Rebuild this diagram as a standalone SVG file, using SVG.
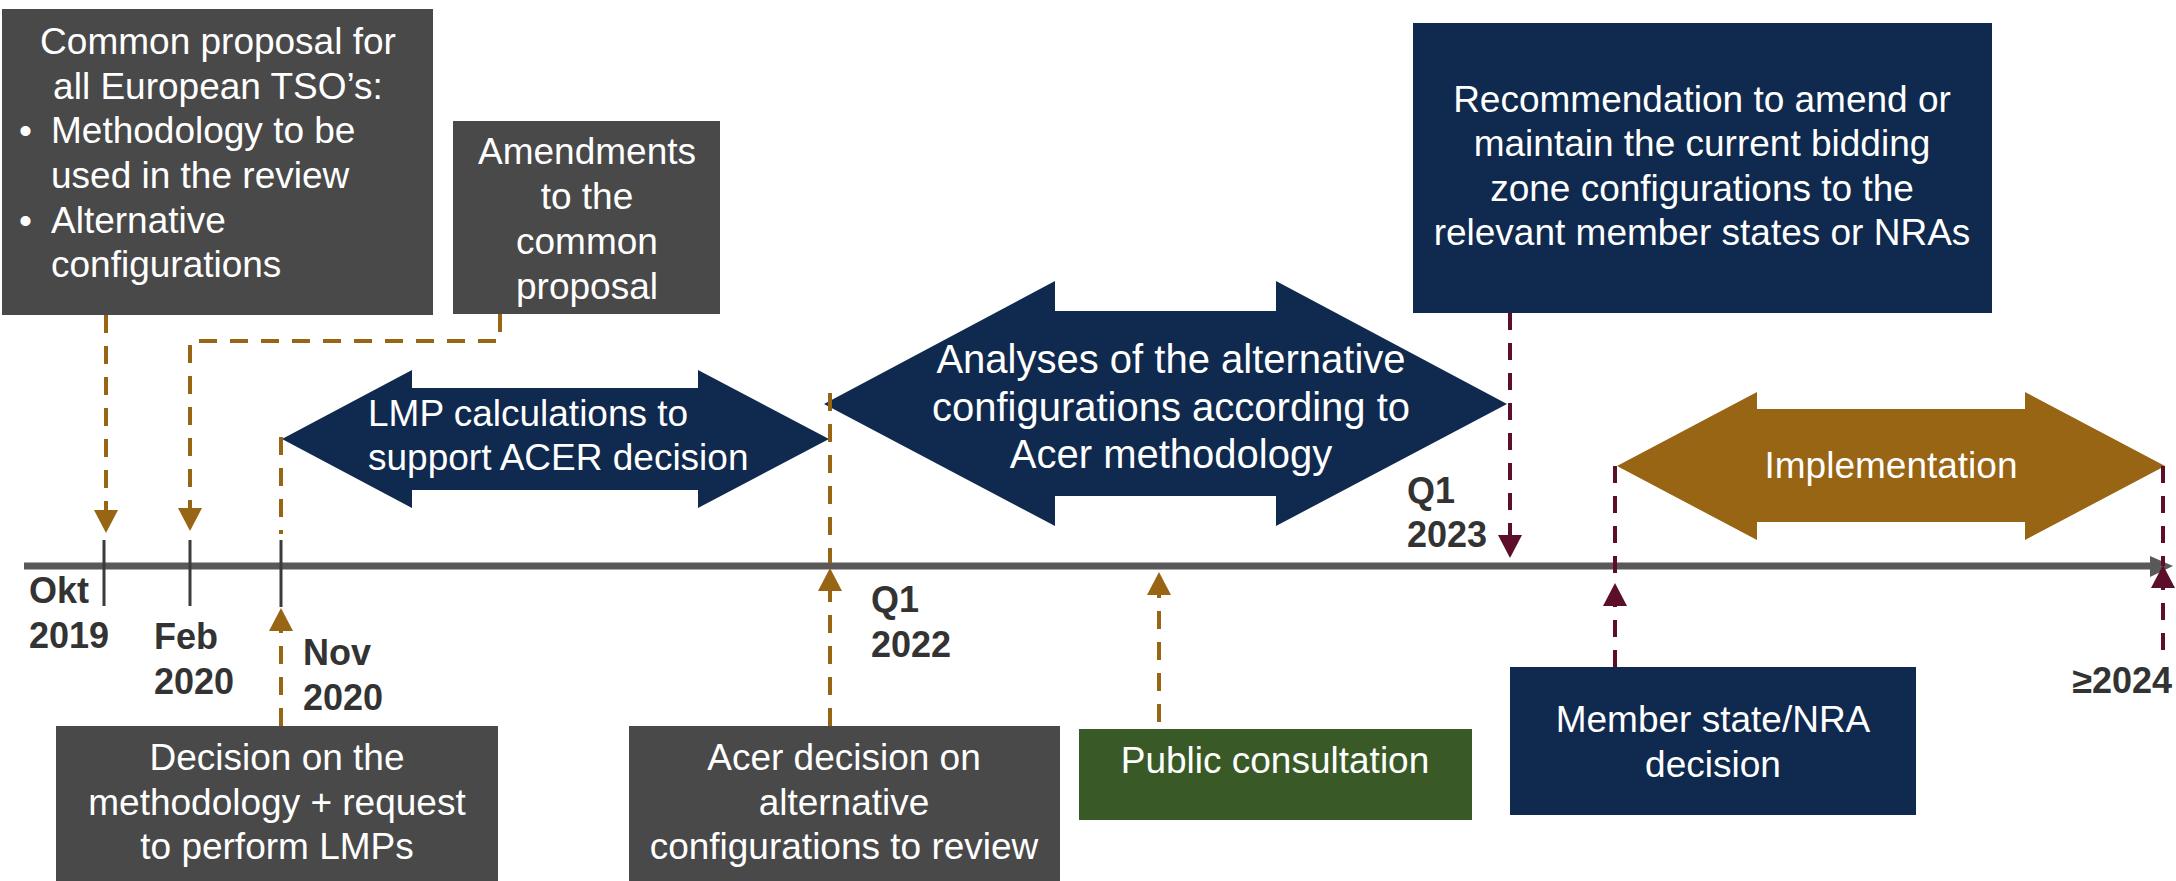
<svg xmlns="http://www.w3.org/2000/svg" width="2176" height="881" viewBox="0 0 2176 881">
<defs>
<style>
.gray{fill:#494949}
.navy{fill:#0F2A4E}
.gold{fill:#976514}
.green{fill:#395A27}
.t{font-family:"Liberation Sans",Arial,sans-serif;fill:#FFFFFF;font-size:37px}
.c{text-anchor:middle}
.d{font-family:"Liberation Sans",Arial,sans-serif;fill:#333333;font-size:36px;font-weight:bold}
.db{fill:none;stroke:#976514;stroke-width:4;stroke-dasharray:18 13}
.dm{fill:none;stroke:#5C0E2A;stroke-width:4;stroke-dasharray:17 13}
.tick{stroke:#3b3b3b;stroke-width:3}
</style>
<marker id="ab" markerUnits="userSpaceOnUse" markerWidth="24" markerHeight="24" viewBox="0 0 24 24" refX="0" refY="12" orient="auto"><path d="M0,0 L23,12 L0,24 z" fill="#976514"/></marker>
<marker id="am" markerUnits="userSpaceOnUse" markerWidth="24" markerHeight="24" viewBox="0 0 24 24" refX="0" refY="12" orient="auto"><path d="M0,0 L23,12 L0,24 z" fill="#5C0E2A"/></marker>
</defs>
<rect width="2176" height="881" fill="#FFFFFF"/>

<g id="timeline">
<line x1="24" y1="566" x2="2152" y2="566" stroke="#595959" stroke-width="7"/>
<polygon points="2150,556 2173,566 2150,577" fill="#595959"/>
<line class="tick" x1="104" y1="540" x2="104" y2="606"/>
<line class="tick" x1="190" y1="540" x2="190" y2="606"/>
<line class="tick" x1="281" y1="540" x2="281" y2="607"/>
</g>

<g id="node-common-proposal">
<rect class="gray" x="2" y="9" width="431" height="306"/>
<text class="t c" x="218" y="54">Common proposal for</text>
<text class="t c" x="218" y="99">all European TSO’s:</text>
<text class="t" x="19" y="143">•</text>
<text class="t" x="51" y="143">Methodology to be</text>
<text class="t" x="51" y="188">used in the review</text>
<text class="t" x="19" y="233">•</text>
<text class="t" x="51" y="233">Alternative</text>
<text class="t" x="51" y="277">configurations</text>
</g>

<g id="node-amendments">
<rect class="gray" x="453" y="121" width="267" height="193"/>
<text class="t c" x="587" y="164">Amendments</text>
<text class="t c" x="587" y="209">to the</text>
<text class="t c" x="587" y="254">common</text>
<text class="t c" x="587" y="299">proposal</text>
</g>

<g id="node-recommendation">
<rect class="navy" x="1413" y="23" width="579" height="290"/>
<text class="t c" x="1702" y="112">Recommendation to amend or</text>
<text class="t c" x="1702" y="156">maintain the current bidding</text>
<text class="t c" x="1702" y="201">zone configurations to the</text>
<text class="t c" x="1702" y="245">relevant member states or NRAs</text>
</g>

<g id="node-lmp">
<polygon class="navy" points="282,439 412,370 412,388 698,388 698,370 829,439 698,508 698,490 412,490 412,508"/>
<text class="t" x="368" y="426">LMP calculations to</text>
<text class="t" x="368" y="470">support ACER decision</text>
</g>

<g id="node-analyses">
<polygon class="navy" points="824,404 1055,281 1055,311 1276,311 1276,281 1507,404 1276,526 1276,496 1055,496 1055,526"/>
<text class="t c" x="1171" y="373" style="font-size:40px">Analyses of the alternative</text>
<text class="t c" x="1171" y="421" style="font-size:40px">configurations according to</text>
<text class="t c" x="1171" y="468" style="font-size:40px">Acer methodology</text>
</g>

<g id="node-implementation">
<polygon class="gold" points="1617,466 1757,392 1757,409 2025,409 2025,392 2165,466 2025,540 2025,522 1757,522 1757,540"/>
<text class="t c" x="1891" y="478">Implementation</text>
</g>

<g id="node-decision-methodology">
<rect class="gray" x="56" y="726" width="442" height="160"/>
<text class="t c" x="277" y="770">Decision on the</text>
<text class="t c" x="277" y="815">methodology + request</text>
<text class="t c" x="277" y="859">to perform LMPs</text>
</g>

<g id="node-acer-decision">
<rect class="gray" x="629" y="726" width="431" height="160"/>
<text class="t c" x="844" y="770">Acer decision on</text>
<text class="t c" x="844" y="815">alternative</text>
<text class="t c" x="844" y="859">configurations to review</text>
</g>

<g id="node-public-consultation">
<rect class="green" x="1079" y="729" width="393" height="91"/>
<text class="t c" x="1275" y="773">Public consultation</text>
</g>

<g id="node-member-state">
<rect class="navy" x="1510" y="667" width="406" height="148"/>
<text class="t c" x="1713" y="732">Member state/NRA</text>
<text class="t c" x="1713" y="777">decision</text>
</g>

<g id="connectors">
<line class="db" x1="106" y1="315" x2="106" y2="510" marker-end="url(#ab)"/>
<path class="db" d="M500,314 V341 H190 V508" marker-end="url(#ab)"/>
<line class="db" x1="281" y1="437" x2="281" y2="534"/>
<line class="db" x1="281" y1="726" x2="281" y2="631" marker-end="url(#ab)"/>
<line class="db" x1="830" y1="393" x2="830" y2="563"/>
<line class="db" x1="830" y1="726" x2="830" y2="591" marker-end="url(#ab)"/>
<line class="db" x1="1159" y1="722" x2="1159" y2="595" marker-end="url(#ab)"/>
<line class="dm" x1="1510" y1="313" x2="1510" y2="535" marker-end="url(#am)"/>
<line class="dm" x1="1615" y1="466" x2="1615" y2="574"/>
<line class="dm" x1="1615" y1="667" x2="1615" y2="606" marker-end="url(#am)"/>
<line class="dm" x1="2163" y1="466" x2="2163" y2="566"/>
<line class="dm" x1="2163" y1="650" x2="2163" y2="588" marker-end="url(#am)"/>
</g>

<g id="dates">
<text class="d" x="29" y="603">Okt</text>
<text class="d" x="29" y="648">2019</text>
<text class="d" x="154" y="649">Feb</text>
<text class="d" x="154" y="694">2020</text>
<text class="d" x="303" y="665">Nov</text>
<text class="d" x="303" y="710">2020</text>
<text class="d" x="871" y="612">Q1</text>
<text class="d" x="871" y="657">2022</text>
<text class="d" x="1407" y="503">Q1</text>
<text class="d" x="1407" y="547">2023</text>
<text class="d" x="2172" y="693" text-anchor="end">≥2024</text>
</g>
</svg>
